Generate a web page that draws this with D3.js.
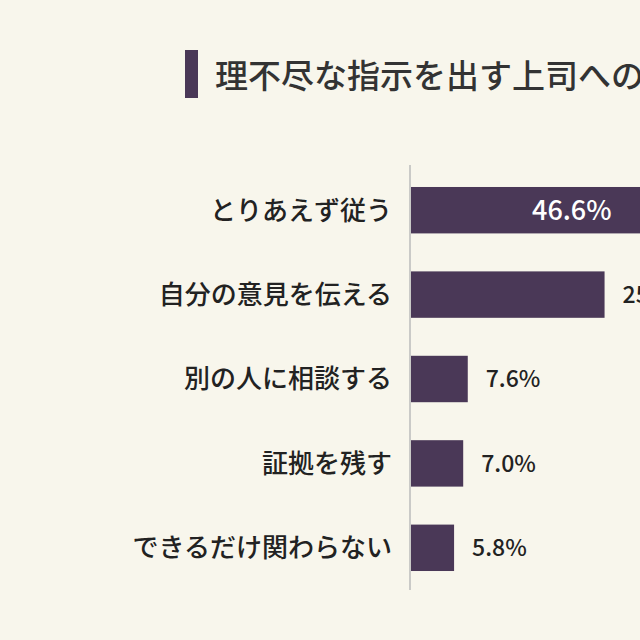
<!DOCTYPE html>
<html><head><meta charset="utf-8">
<script src="https://cdn.jsdelivr.net/npm/d3@7"></script>
<style>body{margin:0;background:#f8f6ec;}svg{display:block}</style>
</head><body>
<script>
const categories = ["とりあえず従う","自分の意見を伝える","別の人に相談する","証拠を残す","できるだけ関わらない"];
const values = [46.6, 25.6, 7.6, 7.0, 5.8];
const title = "理不尽な指示を出す上司への対応";

const svg = d3.select("body").append("svg").attr("width",640).attr("height",640);
svg.append("rect").attr("width",640).attr("height",640).attr("fill","#f8f6ec");
const font = "'Noto Sans CJK JP', sans-serif";
svg.append("rect").attr("x",185).attr("y",50).attr("width",13).attr("height",48).attr("fill","#4a3857");
svg.append("text").attr("x",215).attr("y",88).attr("font-family",font).attr("font-size",33).attr("font-weight",500).attr("fill","#333").text(title);

const x0 = 410;
const x = d3.scaleLinear().domain([0,10]).range([x0, x0+76]);
const y = d3.scaleBand().domain(categories).range([168,590]).paddingInner(0.45).paddingOuter(0.225);

svg.append("line").attr("x1",x0).attr("x2",x0).attr("y1",165).attr("y2",590).attr("stroke","#bbb").attr("stroke-width",1.5);

const g = svg.selectAll("g.row").data(categories).enter().append("g");
g.append("rect").attr("x",x0+1).attr("y",d=>y(d)).attr("height",y.bandwidth())
 .attr("width",(d,i)=>x(values[i])-x0-1).attr("fill","#4a3857");
g.append("text").attr("x",392).attr("y",d=>y(d)+y.bandwidth()/2).attr("dy","0.36em")
 .attr("text-anchor","end").attr("font-family",font).attr("font-size",26).attr("font-weight",500).attr("fill","#222").text(d=>d);
g.append("text").attr("y",d=>y(d)+y.bandwidth()/2).attr("dy","0.36em")
 .attr("x",(d,i)=>i===0?532:x(values[i])+18)
 .attr("font-family",font).attr("font-size",(d,i)=>i===0?27:23).attr("font-weight",500)
 .attr("fill",(d,i)=>i===0?"#fff":"#222").text((d,i)=>values[i].toFixed(1)+"%");
</script>
</body></html>
